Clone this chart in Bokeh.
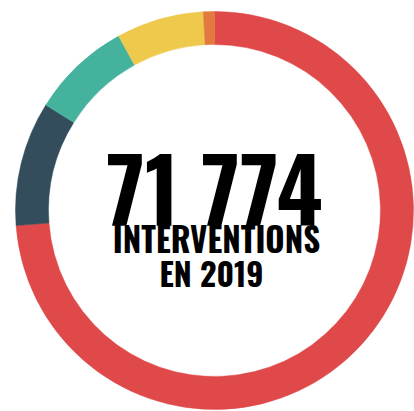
import numpy as np
from bokeh.plotting import figure
from bokeh.models import Range1d
from bokeh.core.properties import value
from bokeh.embed import file_html
from bokeh.resources import INLINE

# Share of interventions (percent), clockwise from the top
categories = ["A", "B", "C", "D", "E"]
shares = [73.8, 10.1, 8.1, 7.1, 0.9]
colors = ["#DF4949", "#334D5C", "#45B29D", "#EFC94C", "#E27A3F"]

total_label = "71 774"
line1 = "INTERVENTIONS"
line2 = "EN 2019"

W, H = 414, 411
p = figure(width=W, height=H, output_backend="svg", toolbar_location=None,
           x_range=Range1d(0, W), y_range=Range1d(0, H),
           min_border=0, outline_line_color=None)
p.axis.visible = False
p.grid.visible = False
p.background_fill_color = "white"
p.border_fill_color = "white"

frac = np.array(shares) / np.sum(shares)
cum = np.concatenate([[0], np.cumsum(frac)])
start = np.pi / 2 - 2 * np.pi * cum[:-1]
end = np.pi / 2 - 2 * np.pi * cum[1:]

cx, cy = 214, H - 210
p.annular_wedge(x=cx, y=cy, inner_radius=166, outer_radius=199,
                start_angle=start, end_angle=end, direction="clock",
                fill_color=colors, line_color=colors, line_width=0.5)

font = value("Oswald")
p.text(x=[cx], y=[H - 185], text=[total_label], text_font=font,
       text_font_style="bold", text_font_size="88px", text_align="center",
       text_baseline="alphabetic", text_color="black")
p.text(x=[cx + 2], y=[H - 238], text=[line1], text_font=font,
       text_font_style="bold", text_font_size="33px", text_align="center",
       text_baseline="alphabetic", text_color="black")
p.text(x=[cx - 3], y=[H - 272], text=[line2], text_font=font,
       text_font_style="bold", text_font_size="32px", text_align="center",
       text_baseline="alphabetic", text_color="black")

open("out.html", "w").write(file_html(p, INLINE))
